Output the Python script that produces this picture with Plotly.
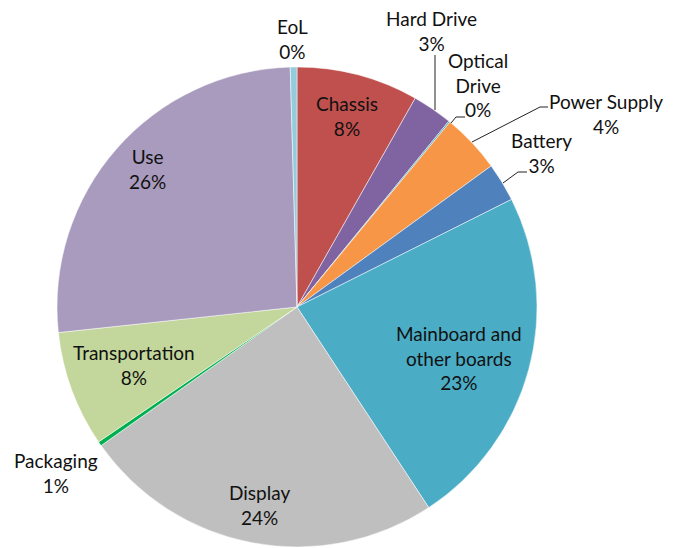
import plotly.graph_objects as go

W, H = 678, 548

categories = ["Chassis", "Hard Drive", "Optical Drive", "Power Supply", "Battery",
              "Mainboard and other boards", "Display", "Packaging", "Transportation",
              "Use", "EoL"]
values = [8.2, 2.7, 0.1, 4.0, 2.6, 23.15, 24.45, 0.3, 7.8, 26.25, 0.45]
pct_labels = ["8%", "3%", "0%", "4%", "3%", "23%", "24%", "1%", "8%", "26%", "0%"]
display_names = ["Chassis", "Hard Drive", "Optical<br>Drive", "Power Supply", "Battery",
                 "Mainboard and<br>other boards", "Display", "Packaging", "Transportation",
                 "Use", "EoL"]
colors = ["#C0504D", "#8064A2", "#4BACC6", "#F79646", "#4F81BD", "#4BACC6",
          "#BFBFBF", "#00B050", "#C3D69B", "#A99BBD", "#93CDDD"]

# label anchor positions in window pixels (x, y centre of text block)
label_pos = [(347, 116), (431, 31), (478, 85), (606, 114), (541, 153), (459, 358),
             (259, 505), (56, 473), (134, 365), (147, 169), (292, 39)]

# page body margin offset (window px -> figure px)
OFF = 8
cx, cy, r = 297, 307, 240

def px(x, y):
    return (x - OFF) / W, 1 - (y - OFF) / H

x0, y1 = px(cx - r, cy - r)
x1, y0 = px(cx + r, cy + r)

fig = go.Figure(go.Pie(
    labels=categories, values=values, sort=False, direction="clockwise", rotation=0,
    marker=dict(colors=colors, line=dict(color="white", width=0.5)),
    textinfo="none", hoverinfo="label+percent", showlegend=False,
    domain=dict(x=[x0, x1], y=[y0, y1]),
))

for name, pct, (x, y) in zip(display_names, pct_labels, label_pos):
    ax, ay = px(x, y)
    fig.add_annotation(x=ax, y=ay, xref="paper", yref="paper", showarrow=False,
                       text=f"{name}<br>{pct}", align="center",
                       font=dict(family="Lato, Open Sans, sans-serif", size=19, color="#111111"),
                       xanchor="center", yanchor="middle")

leaders = [
    [(435, 55), (435, 110)],
    [(451, 123), (456, 117), (465, 117)],
    [(472, 142), (540, 107), (548, 107)],
    [(503, 183), (518, 172), (527, 172)],
]
for pts in leaders:
    path = "M " + " L ".join("{},{}".format(*px(x, y)) for x, y in pts)
    fig.add_shape(type="path", path=path, xref="paper", yref="paper",
                  line=dict(color="#222222", width=1))

fig.update_layout(width=W, height=H, margin=dict(l=0, r=0, t=0, b=0),
                  paper_bgcolor="white", plot_bgcolor="white")

fig.write_html("out.html")
